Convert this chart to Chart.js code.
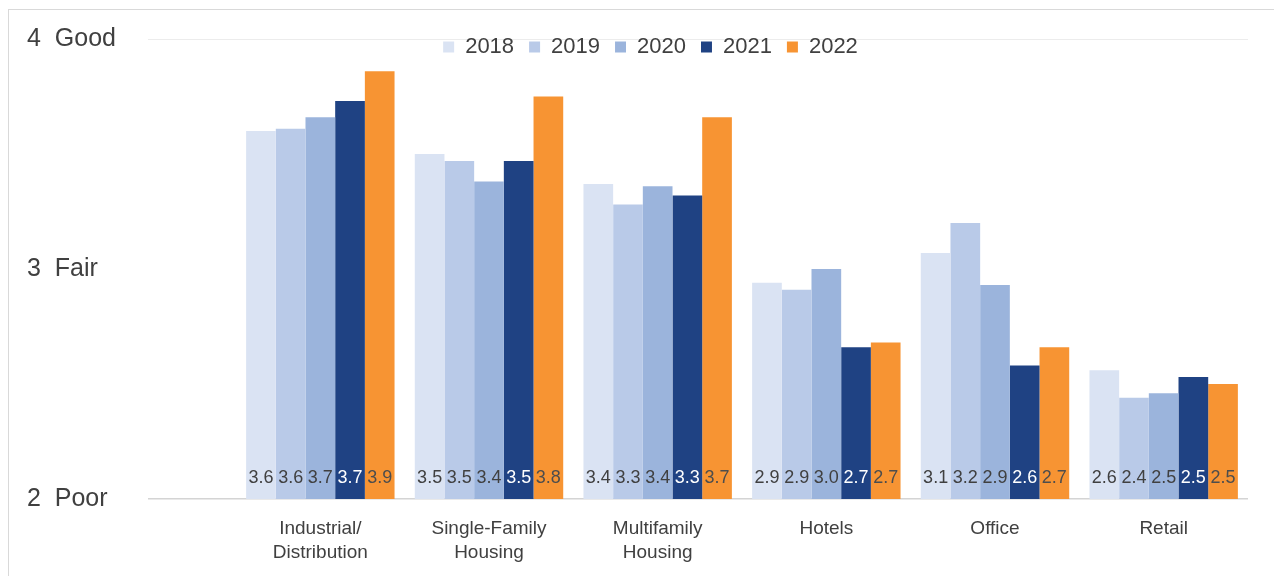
<!DOCTYPE html>
<html>
<head>
<meta charset="utf-8">
<script src="https://cdn.jsdelivr.net/npm/chart.js@4.4.1/dist/chart.umd.min.js"></script>
<style>
  body { margin: 0; background: #fff; overflow: hidden; }
  #wrap { position: relative; width: 1274px; height: 576px; }
  #frame { position: absolute; left: 8px; top: 9px; width: 1300px; height: 600px; border: 1px solid #d9d9d9; }
  #chart { position: absolute; left: 0; top: 0; }
</style>
</head>
<body>
<div id="wrap">
  <div id="frame"></div>
  <canvas id="chart" width="1274" height="576"></canvas>
</div>
<script>
// data
const categories = [['Industrial/', 'Distribution'], ['Single-Family', 'Housing'], ['Multifamily', 'Housing'], 'Hotels', 'Office', 'Retail'];
const years = ['2018', '2019', '2020', '2021', '2022'];
const y2018 = [3.60, 3.50, 3.37, 2.94, 3.07, 2.56];
const y2019 = [3.61, 3.47, 3.28, 2.91, 3.20, 2.44];
const y2020 = [3.66, 3.38, 3.36, 3.00, 2.93, 2.46];
const y2021 = [3.73, 3.47, 3.32, 2.66, 2.58, 2.53];
const y2022 = [3.86, 3.75, 3.66, 2.68, 2.66, 2.50];
const yTickNames = ['Poor', 'Fair', 'Good']; // for 2, 3, 4

const colors = ['#dae3f3', '#b9cae8', '#9bb4dc', '#1f4283', '#f79433'];
const labelColors = ['#404040', '#404040', '#404040', '#ffffff', '#4d4d4d'];
const FONT = "'Liberation Sans Narrow', 'Arial Narrow', 'Liberation Sans', Arial, sans-serif";
const TEXT = '#404040';

Chart.defaults.font.family = FONT;
Chart.defaults.color = TEXT;

const series = [y2018, y2019, y2020, y2021, y2022];

// legend sits inside the plot area, like the original
const legendInside = {
    id: 'legendInside',
    beforeInit(chart) {
        const fit = chart.legend.fit;
        chart.legend.fit = function () {
            fit.call(this);
            this.height = 0;
        };
    },
    afterLayout(chart) {
        const lg = chart.legend;
        lg.top = 21;
        lg.height = 60;
        lg.bottom = lg.top + lg.height;
        lg.left += 13;
        lg.right += 13;
    }
};

// value labels at the foot of every bar
const barValues = {
    id: 'barValues',
    afterDatasetsDraw(chart) {
        const ctx = chart.ctx;
        const base = chart.scales.y.getPixelForValue(2);
        ctx.save();
        ctx.font = '18px ' + FONT;
        ctx.textAlign = 'center';
        ctx.textBaseline = 'middle';
        chart.data.datasets.forEach((ds, i) => {
            const meta = chart.getDatasetMeta(i);
            ctx.fillStyle = labelColors[i];
            meta.data.forEach((bar, j) => {
                ctx.fillText(ds.data[j].toFixed(1), bar.x, base - 21);
            });
        });
        ctx.restore();
    }
};

new Chart(document.getElementById('chart'), {
    type: 'bar',
    data: {
        labels: categories,
        datasets: series.map((d, i) => ({
            label: years[i],
            data: d,
            backgroundColor: colors[i],
            borderWidth: 0,
            barPercentage: 1,
            categoryPercentage: 0.88
        }))
    },
    options: {
        responsive: false,
        animation: false,
        devicePixelRatio: 1,
        layout: { padding: { left: 27, right: 26, top: 39, bottom: 0 } },
        plugins: {
            legend: {
                position: 'top',
                labels: {
                    boxWidth: 11,
                    boxHeight: 11,
                    padding: 15,
                    color: TEXT,
                    font: { size: 22 }
                }
            },
            tooltip: { enabled: false }
        },
        scales: {
            x: {
                grid: { display: false, drawTicks: false },
                border: { display: false },
                ticks: {
                    color: TEXT,
                    padding: 18,
                    maxRotation: 0,
                    font: { size: 19, lineHeight: 1.27 }
                },
                afterFit(scale) { scale.height = 77; }
            },
            y: {
                min: 2,
                max: 4,
                border: { display: false },
                grid: {
                    drawTicks: true,
                    tickLength: 88,
                    color: ctx => ctx.tick.value === 2 ? '#d4d4d4' : (ctx.tick.value === 4 ? '#ececec' : 'rgba(0,0,0,0)'),
                    lineWidth: ctx => ctx.tick.value === 2 ? 1.5 : 1
                },
                ticks: {
                    stepSize: 1,
                    color: TEXT,
                    padding: 0,
                    crossAlign: 'far',
                    font: { size: 25 },
                    callback: v => v + '  ' + yTickNames[v - 2]
                },
                afterFit(scale) { scale.width = 209; }
            }
        }
    },
    plugins: [legendInside, barValues]
});
</script>
</body>
</html>
